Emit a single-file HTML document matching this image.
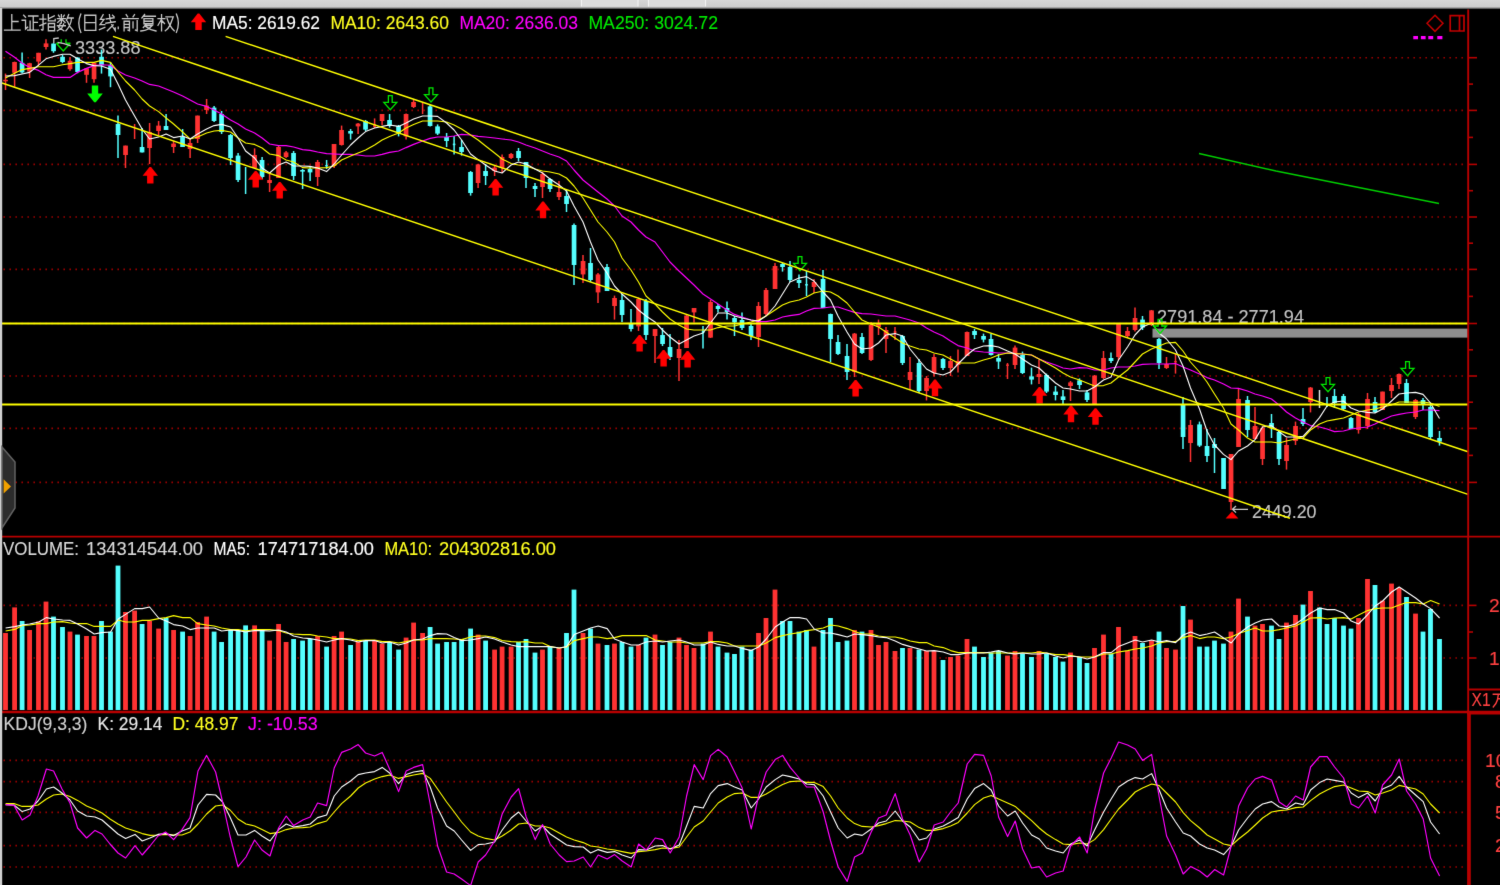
<!DOCTYPE html><html><head><meta charset="utf-8"><title>上证指数(日线.前复权)</title><style>
html,body{margin:0;padding:0;background:#000;overflow:hidden}
body{width:1500px;height:885px;position:relative;font-family:"Liberation Sans",sans-serif}
svg{position:absolute;left:-4px;top:-4px;display:block}
text{font-family:"Liberation Sans",sans-serif;font-size:19.2px;stroke-width:0.14px}
</style></head><body>
<svg width="1508" height="893" viewBox="-4 -4 1508 893">
<defs><filter id="bl" x="-4" y="-4" width="1508" height="893" filterUnits="userSpaceOnUse" color-interpolation-filters="sRGB"><feConvolveMatrix order="3" kernelMatrix="0.0064 0.0672 0.0064 0.0672 0.7056 0.0672 0.0064 0.0672 0.0064" edgeMode="duplicate" preserveAlpha="true"/></filter><linearGradient id="tg" x1="0" y1="0" x2="0" y2="1"><stop offset="0" stop-color="#d6d6d6"/><stop offset="0.7" stop-color="#cdcdcd"/><stop offset="0.85" stop-color="#8a8a8a"/><stop offset="1" stop-color="#000"/></linearGradient>
</defs><g filter="url(#bl)">
<rect x="-4" y="-4" width="1508" height="893" fill="#000"/>
<g opacity="0.92">
<line x1="3.4" y1="57.7" x2="1464" y2="57.7" stroke="#a40000" stroke-width="1.6" stroke-dasharray="1.6 4.4"/>
<line x1="3.4" y1="110.4" x2="1464" y2="110.4" stroke="#a40000" stroke-width="1.6" stroke-dasharray="1.6 4.4"/>
<line x1="3.4" y1="164.4" x2="1464" y2="164.4" stroke="#a40000" stroke-width="1.6" stroke-dasharray="1.6 4.4"/>
<line x1="3.4" y1="217" x2="1464" y2="217" stroke="#a40000" stroke-width="1.6" stroke-dasharray="1.6 4.4"/>
<line x1="3.4" y1="269.4" x2="1464" y2="269.4" stroke="#a40000" stroke-width="1.6" stroke-dasharray="1.6 4.4"/>
<line x1="3.4" y1="323.5" x2="1464" y2="323.5" stroke="#a40000" stroke-width="1.6" stroke-dasharray="1.6 4.4"/>
<line x1="3.4" y1="376" x2="1464" y2="376" stroke="#a40000" stroke-width="1.6" stroke-dasharray="1.6 4.4"/>
<line x1="3.4" y1="428.4" x2="1464" y2="428.4" stroke="#a40000" stroke-width="1.6" stroke-dasharray="1.6 4.4"/>
<line x1="3.4" y1="482.4" x2="1464" y2="482.4" stroke="#a40000" stroke-width="1.6" stroke-dasharray="1.6 4.4"/>
<line x1="3.4" y1="605.4" x2="1464" y2="605.4" stroke="#a40000" stroke-width="1.6" stroke-dasharray="1.6 4.4"/>
<line x1="3.4" y1="658" x2="1464" y2="658" stroke="#a40000" stroke-width="1.6" stroke-dasharray="1.6 4.4"/>
<line x1="3.4" y1="760.4" x2="1464" y2="760.4" stroke="#a40000" stroke-width="1.6" stroke-dasharray="1.6 4.4"/>
<line x1="3.4" y1="781.6" x2="1464" y2="781.6" stroke="#a40000" stroke-width="1.6" stroke-dasharray="1.6 4.4"/>
<line x1="3.4" y1="812.4" x2="1464" y2="812.4" stroke="#a40000" stroke-width="1.6" stroke-dasharray="1.6 4.4"/>
<line x1="3.4" y1="845.6" x2="1464" y2="845.6" stroke="#a40000" stroke-width="1.6" stroke-dasharray="1.6 4.4"/>
<line x1="3.4" y1="867" x2="1464" y2="867" stroke="#a40000" stroke-width="1.6" stroke-dasharray="1.6 4.4"/>
</g>
<text x="75" y="54.2" fill="#c4c4c4" stroke="#c4c4c4" textLength="65.5" lengthAdjust="spacingAndGlyphs">3333.88</text>
<text x="1157" y="323" fill="#c4c4c4" stroke="#c4c4c4" textLength="147" lengthAdjust="spacingAndGlyphs">2791.84 - 2771.94</text>
<text x="1252" y="518.4" fill="#c4c4c4" stroke="#c4c4c4" textLength="64.5" lengthAdjust="spacingAndGlyphs">2449.20</text>
<path d="M1232.5 509.3H1248M1236 506L1232.5 509.3L1236 512.6" fill="none" stroke="#c8c8c8" stroke-width="1.3"/>
<path d="M1232 511.6L1238.4 518.4H1225.6Z" fill="#ff0000"/>
<rect x="1152.5" y="328.6" width="316" height="9" fill="#8e8e8e"/>
<g>
<line x1="5.5" y1="73.6" x2="5.5" y2="90" stroke="#ff3232" stroke-width="1.5"/>
<rect x="3.2" y="79.8" width="4.7" height="1.5" fill="#ff3232"/>
<line x1="14.6" y1="61.6" x2="14.6" y2="86.8" stroke="#ff3232" stroke-width="1.5"/>
<rect x="12.2" y="62" width="4.7" height="10.8" fill="#ff3232"/>
<line x1="22.1" y1="52.4" x2="22.1" y2="73.6" stroke="#54ffff" stroke-width="1.5"/>
<rect x="19.7" y="62.8" width="4.7" height="9.6" fill="#54ffff"/>
<line x1="29.6" y1="62.8" x2="29.6" y2="78" stroke="#ff3232" stroke-width="1.5"/>
<rect x="27.2" y="63.2" width="4.7" height="8.4" fill="#ff3232"/>
<line x1="38.5" y1="52.8" x2="38.5" y2="65.6" stroke="#ff3232" stroke-width="1.5"/>
<rect x="36.2" y="52.8" width="4.7" height="8.8" fill="#ff3232"/>
<line x1="46" y1="39.2" x2="46" y2="49.6" stroke="#ff3232" stroke-width="1.5"/>
<rect x="43.7" y="43.4" width="4.7" height="3.6" fill="#ff3232"/>
<line x1="53.5" y1="43.2" x2="53.5" y2="52.8" stroke="#54ffff" stroke-width="1.5"/>
<rect x="51.2" y="43.6" width="4.7" height="7.6" fill="#54ffff"/>
<line x1="62.5" y1="54.8" x2="62.5" y2="63.2" stroke="#54ffff" stroke-width="1.5"/>
<rect x="60.2" y="56.8" width="4.7" height="5.2" fill="#54ffff"/>
<line x1="70" y1="57.2" x2="70" y2="70.8" stroke="#ff3232" stroke-width="1.5"/>
<rect x="67.7" y="60.8" width="4.7" height="8.4" fill="#ff3232"/>
<line x1="77.5" y1="57.2" x2="77.5" y2="73.2" stroke="#54ffff" stroke-width="1.5"/>
<rect x="75.2" y="57.6" width="4.7" height="14.4" fill="#54ffff"/>
<line x1="86.5" y1="68" x2="86.5" y2="82.8" stroke="#ff3232" stroke-width="1.5"/>
<rect x="84.2" y="68.4" width="4.7" height="6.4" fill="#ff3232"/>
<line x1="94" y1="62.8" x2="94" y2="82.8" stroke="#ff3232" stroke-width="1.5"/>
<rect x="91.7" y="62.8" width="4.7" height="16.4" fill="#ff3232"/>
<line x1="101.5" y1="49.6" x2="101.5" y2="73.6" stroke="#54ffff" stroke-width="1.5"/>
<rect x="99.2" y="56.8" width="4.7" height="8.4" fill="#54ffff"/>
<line x1="110.5" y1="62" x2="110.5" y2="87.2" stroke="#54ffff" stroke-width="1.5"/>
<rect x="108.2" y="65.2" width="4.7" height="11.2" fill="#54ffff"/>
<line x1="118" y1="115.6" x2="118" y2="158" stroke="#54ffff" stroke-width="1.5"/>
<rect x="115.7" y="124" width="4.7" height="11" fill="#54ffff"/>
<line x1="125.5" y1="145.6" x2="125.5" y2="168" stroke="#ff3232" stroke-width="1.5"/>
<rect x="123.2" y="145.6" width="4.7" height="9.4" fill="#ff3232"/>
<line x1="134.6" y1="124" x2="134.6" y2="139" stroke="#ff3232" stroke-width="1.5"/>
<line x1="142.1" y1="128" x2="142.1" y2="152.4" stroke="#54ffff" stroke-width="1.5"/>
<rect x="139.7" y="147" width="4.7" height="5.4" fill="#54ffff"/>
<line x1="149.6" y1="123" x2="149.6" y2="164" stroke="#ff3232" stroke-width="1.5"/>
<rect x="147.2" y="132" width="4.7" height="16" fill="#ff3232"/>
<line x1="158.6" y1="121" x2="158.6" y2="135" stroke="#ff3232" stroke-width="1.5"/>
<rect x="156.2" y="125.6" width="4.7" height="5.4" fill="#ff3232"/>
<line x1="166.1" y1="114" x2="166.1" y2="130" stroke="#54ffff" stroke-width="1.5"/>
<rect x="163.7" y="126" width="4.7" height="4" fill="#54ffff"/>
<line x1="173.6" y1="141" x2="173.6" y2="153" stroke="#ff3232" stroke-width="1.5"/>
<rect x="171.2" y="143.6" width="4.7" height="3.4" fill="#ff3232"/>
<line x1="182.6" y1="129" x2="182.6" y2="147" stroke="#54ffff" stroke-width="1.5"/>
<rect x="180.2" y="137" width="4.7" height="10" fill="#54ffff"/>
<line x1="190.1" y1="138" x2="190.1" y2="158" stroke="#ff3232" stroke-width="1.5"/>
<rect x="187.7" y="143" width="4.7" height="6" fill="#ff3232"/>
<line x1="197.6" y1="115.6" x2="197.6" y2="143" stroke="#ff3232" stroke-width="1.5"/>
<rect x="195.2" y="115.6" width="4.7" height="23.4" fill="#ff3232"/>
<line x1="206.6" y1="99" x2="206.6" y2="114" stroke="#ff3232" stroke-width="1.5"/>
<rect x="204.2" y="105.6" width="4.7" height="4.4" fill="#ff3232"/>
<line x1="214.1" y1="106" x2="214.1" y2="122" stroke="#54ffff" stroke-width="1.5"/>
<rect x="211.7" y="107.6" width="4.7" height="13.4" fill="#54ffff"/>
<line x1="221.6" y1="111" x2="221.6" y2="134" stroke="#54ffff" stroke-width="1.5"/>
<rect x="219.2" y="114" width="4.7" height="18" fill="#54ffff"/>
<line x1="230.6" y1="134" x2="230.6" y2="165" stroke="#54ffff" stroke-width="1.5"/>
<rect x="228.2" y="135" width="4.7" height="23" fill="#54ffff"/>
<line x1="238.1" y1="153" x2="238.1" y2="182" stroke="#54ffff" stroke-width="1.5"/>
<rect x="235.7" y="155.6" width="4.7" height="24.4" fill="#54ffff"/>
<line x1="245.6" y1="167" x2="245.6" y2="194" stroke="#54ffff" stroke-width="1.5"/>
<line x1="254.6" y1="148.4" x2="254.6" y2="168" stroke="#ff3232" stroke-width="1.5"/>
<rect x="252.2" y="155" width="4.7" height="13" fill="#ff3232"/>
<line x1="262.1" y1="157" x2="262.1" y2="179" stroke="#54ffff" stroke-width="1.5"/>
<rect x="259.7" y="160" width="4.7" height="17" fill="#54ffff"/>
<line x1="269.6" y1="172" x2="269.6" y2="192" stroke="#ff3232" stroke-width="1.5"/>
<rect x="267.2" y="180" width="4.7" height="3" fill="#ff3232"/>
<line x1="278.6" y1="145.6" x2="278.6" y2="178" stroke="#ff3232" stroke-width="1.5"/>
<rect x="276.2" y="147" width="4.7" height="31" fill="#ff3232"/>
<line x1="286.1" y1="151" x2="286.1" y2="158" stroke="#ff3232" stroke-width="1.5"/>
<rect x="283.7" y="152.4" width="4.7" height="4.6" fill="#ff3232"/>
<line x1="293.6" y1="151" x2="293.6" y2="180" stroke="#54ffff" stroke-width="1.5"/>
<rect x="291.2" y="153" width="4.7" height="23" fill="#54ffff"/>
<line x1="302.6" y1="169" x2="302.6" y2="189" stroke="#54ffff" stroke-width="1.5"/>
<rect x="300.2" y="170" width="4.7" height="1.6" fill="#54ffff"/>
<line x1="310.1" y1="166" x2="310.1" y2="181" stroke="#54ffff" stroke-width="1.5"/>
<rect x="307.7" y="169" width="4.7" height="3.4" fill="#54ffff"/>
<line x1="317.6" y1="160" x2="317.6" y2="186" stroke="#ff3232" stroke-width="1.5"/>
<rect x="315.2" y="162" width="4.7" height="15" fill="#ff3232"/>
<line x1="326.6" y1="160" x2="326.6" y2="169" stroke="#54ffff" stroke-width="1.5"/>
<rect x="325.2" y="165" width="2.6" height="1.4" fill="#54ffff"/>
<line x1="334.1" y1="144" x2="334.1" y2="168" stroke="#ff3232" stroke-width="1.5"/>
<rect x="331.7" y="144" width="4.7" height="22" fill="#ff3232"/>
<line x1="341.6" y1="125.6" x2="341.6" y2="145.6" stroke="#ff3232" stroke-width="1.5"/>
<rect x="339.2" y="130" width="4.7" height="15" fill="#ff3232"/>
<line x1="350.6" y1="129" x2="350.6" y2="139.6" stroke="#54ffff" stroke-width="1.5"/>
<rect x="348.2" y="131" width="4.7" height="2.6" fill="#54ffff"/>
<line x1="358.1" y1="123" x2="358.1" y2="134" stroke="#ff3232" stroke-width="1.5"/>
<rect x="355.7" y="123.6" width="4.7" height="2.8" fill="#ff3232"/>
<line x1="365.6" y1="120" x2="365.6" y2="131" stroke="#54ffff" stroke-width="1.5"/>
<rect x="363.2" y="121" width="4.7" height="8.6" fill="#54ffff"/>
<line x1="374.6" y1="118.4" x2="374.6" y2="128" stroke="#ff3232" stroke-width="1.5"/>
<rect x="373.2" y="124.4" width="2.6" height="2.6" fill="#ff3232"/>
<line x1="382.1" y1="114" x2="382.1" y2="125" stroke="#ff3232" stroke-width="1.5"/>
<rect x="379.7" y="114" width="4.7" height="7" fill="#ff3232"/>
<line x1="389.6" y1="114" x2="389.6" y2="127.6" stroke="#54ffff" stroke-width="1.5"/>
<rect x="387.2" y="120" width="4.7" height="6" fill="#54ffff"/>
<line x1="398.6" y1="125" x2="398.6" y2="136.4" stroke="#54ffff" stroke-width="1.5"/>
<rect x="396.2" y="126" width="4.7" height="7" fill="#54ffff"/>
<line x1="406.1" y1="113.6" x2="406.1" y2="139.6" stroke="#ff3232" stroke-width="1.5"/>
<rect x="403.7" y="114" width="4.7" height="22.4" fill="#ff3232"/>
<line x1="413.6" y1="100" x2="413.6" y2="108" stroke="#ff3232" stroke-width="1.5"/>
<rect x="411.2" y="102" width="4.7" height="5" fill="#ff3232"/>
<line x1="422.6" y1="102.4" x2="422.6" y2="114" stroke="#ff3232" stroke-width="1.5"/>
<line x1="430.1" y1="105" x2="430.1" y2="126.4" stroke="#54ffff" stroke-width="1.5"/>
<rect x="427.7" y="106.4" width="4.7" height="19.6" fill="#54ffff"/>
<line x1="437.6" y1="124.4" x2="437.6" y2="135" stroke="#54ffff" stroke-width="1.5"/>
<rect x="435.2" y="126.4" width="4.7" height="7.2" fill="#54ffff"/>
<line x1="446.6" y1="133" x2="446.6" y2="147" stroke="#54ffff" stroke-width="1.5"/>
<rect x="444.2" y="137" width="4.7" height="4" fill="#54ffff"/>
<line x1="454.1" y1="136" x2="454.1" y2="154.4" stroke="#54ffff" stroke-width="1.5"/>
<rect x="452.8" y="143.6" width="2.6" height="1.6" fill="#54ffff"/>
<line x1="461.6" y1="140" x2="461.6" y2="155.6" stroke="#54ffff" stroke-width="1.5"/>
<rect x="459.2" y="147" width="4.7" height="5" fill="#54ffff"/>
<line x1="470.6" y1="171" x2="470.6" y2="195.6" stroke="#54ffff" stroke-width="1.5"/>
<rect x="468.2" y="172" width="4.7" height="21" fill="#54ffff"/>
<line x1="478.1" y1="164" x2="478.1" y2="188" stroke="#ff3232" stroke-width="1.5"/>
<rect x="475.7" y="164.4" width="4.7" height="18.6" fill="#ff3232"/>
<line x1="485.6" y1="164" x2="485.6" y2="185" stroke="#54ffff" stroke-width="1.5"/>
<rect x="483.2" y="171" width="4.7" height="5" fill="#54ffff"/>
<line x1="494.6" y1="165" x2="494.6" y2="176" stroke="#ff3232" stroke-width="1.5"/>
<rect x="492.2" y="167.6" width="4.7" height="3.4" fill="#ff3232"/>
<line x1="502.1" y1="154.4" x2="502.1" y2="173" stroke="#ff3232" stroke-width="1.5"/>
<rect x="499.7" y="157" width="4.7" height="11" fill="#ff3232"/>
<line x1="511.1" y1="153" x2="511.1" y2="159" stroke="#ff3232" stroke-width="1.5"/>
<rect x="508.7" y="154" width="4.7" height="4" fill="#ff3232"/>
<line x1="518.5" y1="148" x2="518.5" y2="161" stroke="#54ffff" stroke-width="1.5"/>
<rect x="516.2" y="151" width="4.7" height="7" fill="#54ffff"/>
<line x1="526" y1="162" x2="526" y2="188" stroke="#54ffff" stroke-width="1.5"/>
<rect x="523.7" y="162" width="4.7" height="16" fill="#54ffff"/>
<line x1="535" y1="183" x2="535" y2="197" stroke="#54ffff" stroke-width="1.5"/>
<rect x="532.7" y="186" width="4.7" height="3" fill="#54ffff"/>
<line x1="542.5" y1="172" x2="542.5" y2="198" stroke="#ff3232" stroke-width="1.5"/>
<rect x="540.2" y="174" width="4.7" height="13" fill="#ff3232"/>
<line x1="550" y1="178" x2="550" y2="192" stroke="#54ffff" stroke-width="1.5"/>
<rect x="547.7" y="179" width="4.7" height="10" fill="#54ffff"/>
<line x1="559" y1="181" x2="559" y2="200" stroke="#ff3232" stroke-width="1.5"/>
<rect x="556.7" y="192" width="4.7" height="5" fill="#ff3232"/>
<line x1="566.5" y1="190" x2="566.5" y2="212" stroke="#54ffff" stroke-width="1.5"/>
<rect x="564.2" y="196" width="4.7" height="8" fill="#54ffff"/>
<line x1="574" y1="223.6" x2="574" y2="285" stroke="#54ffff" stroke-width="1.5"/>
<rect x="571.7" y="225" width="4.7" height="40" fill="#54ffff"/>
<line x1="583" y1="255" x2="583" y2="283" stroke="#ff3232" stroke-width="1.5"/>
<rect x="580.7" y="261" width="4.7" height="13.4" fill="#ff3232"/>
<line x1="590.5" y1="248" x2="590.5" y2="282" stroke="#54ffff" stroke-width="1.5"/>
<rect x="588.2" y="263" width="4.7" height="17" fill="#54ffff"/>
<line x1="598" y1="273" x2="598" y2="303" stroke="#ff3232" stroke-width="1.5"/>
<rect x="595.7" y="274.4" width="4.7" height="18" fill="#ff3232"/>
<line x1="607" y1="264" x2="607" y2="291" stroke="#54ffff" stroke-width="1.5"/>
<rect x="604.7" y="267" width="4.7" height="24" fill="#54ffff"/>
<line x1="614.5" y1="295.6" x2="614.5" y2="319.6" stroke="#ff3232" stroke-width="1.5"/>
<rect x="612.2" y="298" width="4.7" height="8" fill="#ff3232"/>
<line x1="622" y1="294" x2="622" y2="322" stroke="#54ffff" stroke-width="1.5"/>
<rect x="619.7" y="300" width="4.7" height="15" fill="#54ffff"/>
<line x1="631" y1="309" x2="631" y2="331.6" stroke="#54ffff" stroke-width="1.5"/>
<rect x="628.7" y="324" width="4.7" height="5" fill="#54ffff"/>
<line x1="638.5" y1="297.6" x2="638.5" y2="331" stroke="#ff3232" stroke-width="1.5"/>
<rect x="636.2" y="299" width="4.7" height="27.4" fill="#ff3232"/>
<line x1="646" y1="299" x2="646" y2="340" stroke="#54ffff" stroke-width="1.5"/>
<rect x="643.7" y="301" width="4.7" height="34" fill="#54ffff"/>
<line x1="655" y1="329" x2="655" y2="363" stroke="#ff3232" stroke-width="1.5"/>
<rect x="652.7" y="329" width="4.7" height="7" fill="#ff3232"/>
<line x1="662.5" y1="328" x2="662.5" y2="346" stroke="#54ffff" stroke-width="1.5"/>
<rect x="660.2" y="335" width="4.7" height="9" fill="#54ffff"/>
<line x1="670" y1="334" x2="670" y2="360" stroke="#54ffff" stroke-width="1.5"/>
<rect x="667.7" y="347" width="4.7" height="10" fill="#54ffff"/>
<line x1="679" y1="340" x2="679" y2="381" stroke="#ff3232" stroke-width="1.5"/>
<rect x="676.7" y="349" width="4.7" height="9" fill="#ff3232"/>
<line x1="686.5" y1="314" x2="686.5" y2="348" stroke="#ff3232" stroke-width="1.5"/>
<rect x="684.2" y="315.6" width="4.7" height="32.4" fill="#ff3232"/>
<line x1="694" y1="308" x2="694" y2="322.4" stroke="#ff3232" stroke-width="1.5"/>
<rect x="691.7" y="308" width="4.7" height="4.4" fill="#ff3232"/>
<line x1="703" y1="326" x2="703" y2="348.4" stroke="#54ffff" stroke-width="1.5"/>
<rect x="701.8" y="331" width="2.6" height="2" fill="#54ffff"/>
<line x1="710.5" y1="300" x2="710.5" y2="338" stroke="#ff3232" stroke-width="1.5"/>
<rect x="708.2" y="302" width="4.7" height="35.6" fill="#ff3232"/>
<line x1="718" y1="304" x2="718" y2="312.4" stroke="#54ffff" stroke-width="1.5"/>
<rect x="715.7" y="306" width="4.7" height="3" fill="#54ffff"/>
<line x1="727" y1="301.6" x2="727" y2="319.6" stroke="#54ffff" stroke-width="1.5"/>
<rect x="724.7" y="308" width="4.7" height="4" fill="#54ffff"/>
<line x1="734.5" y1="316" x2="734.5" y2="336" stroke="#54ffff" stroke-width="1.5"/>
<rect x="732.2" y="318" width="4.7" height="4.4" fill="#54ffff"/>
<line x1="742" y1="312.4" x2="742" y2="330" stroke="#54ffff" stroke-width="1.5"/>
<rect x="739.7" y="320" width="4.7" height="8" fill="#54ffff"/>
<line x1="751" y1="324" x2="751" y2="340" stroke="#54ffff" stroke-width="1.5"/>
<rect x="748.7" y="326" width="4.7" height="10" fill="#54ffff"/>
<line x1="758.5" y1="302" x2="758.5" y2="347" stroke="#ff3232" stroke-width="1.5"/>
<rect x="756.2" y="306" width="4.7" height="31" fill="#ff3232"/>
<line x1="766" y1="288" x2="766" y2="316" stroke="#ff3232" stroke-width="1.5"/>
<rect x="763.7" y="290" width="4.7" height="24" fill="#ff3232"/>
<line x1="775" y1="263" x2="775" y2="289" stroke="#ff3232" stroke-width="1.5"/>
<rect x="772.7" y="266" width="4.7" height="23" fill="#ff3232"/>
<line x1="782.5" y1="263" x2="782.5" y2="271.6" stroke="#54ffff" stroke-width="1.5"/>
<rect x="780.2" y="264" width="4.7" height="3" fill="#54ffff"/>
<line x1="790" y1="261" x2="790" y2="282" stroke="#54ffff" stroke-width="1.5"/>
<rect x="787.7" y="267" width="4.7" height="13" fill="#54ffff"/>
<line x1="799" y1="274.4" x2="799" y2="288" stroke="#54ffff" stroke-width="1.5"/>
<rect x="796.7" y="280" width="4.7" height="3" fill="#54ffff"/>
<line x1="806.5" y1="271" x2="806.5" y2="296" stroke="#54ffff" stroke-width="1.5"/>
<rect x="805.2" y="284" width="2.6" height="1.6" fill="#54ffff"/>
<line x1="814" y1="279" x2="814" y2="293" stroke="#ff3232" stroke-width="1.5"/>
<rect x="811.7" y="282" width="4.7" height="5" fill="#ff3232"/>
<line x1="823" y1="270" x2="823" y2="308" stroke="#54ffff" stroke-width="1.5"/>
<rect x="820.7" y="279" width="4.7" height="29" fill="#54ffff"/>
<line x1="830.5" y1="313.6" x2="830.5" y2="362" stroke="#54ffff" stroke-width="1.5"/>
<rect x="828.2" y="314" width="4.7" height="25" fill="#54ffff"/>
<line x1="838" y1="335" x2="838" y2="355" stroke="#54ffff" stroke-width="1.5"/>
<rect x="835.7" y="342" width="4.7" height="12" fill="#54ffff"/>
<line x1="847" y1="344" x2="847" y2="380" stroke="#54ffff" stroke-width="1.5"/>
<rect x="844.7" y="356" width="4.7" height="16" fill="#54ffff"/>
<line x1="854.5" y1="333" x2="854.5" y2="377" stroke="#ff3232" stroke-width="1.5"/>
<rect x="852.2" y="333.6" width="4.7" height="38.4" fill="#ff3232"/>
<line x1="862" y1="333" x2="862" y2="354" stroke="#54ffff" stroke-width="1.5"/>
<rect x="859.7" y="337" width="4.7" height="16" fill="#54ffff"/>
<line x1="871" y1="322" x2="871" y2="361" stroke="#ff3232" stroke-width="1.5"/>
<rect x="868.7" y="325" width="4.7" height="35" fill="#ff3232"/>
<line x1="878.5" y1="319.6" x2="878.5" y2="335" stroke="#ff3232" stroke-width="1.5"/>
<rect x="876.2" y="323.6" width="4.7" height="3.4" fill="#ff3232"/>
<line x1="886" y1="327" x2="886" y2="353" stroke="#ff3232" stroke-width="1.5"/>
<rect x="883.7" y="330" width="4.7" height="9" fill="#ff3232"/>
<line x1="895" y1="327" x2="895" y2="340" stroke="#ff3232" stroke-width="1.5"/>
<rect x="893.8" y="331" width="2.6" height="2" fill="#ff3232"/>
<line x1="902.5" y1="335" x2="902.5" y2="365" stroke="#54ffff" stroke-width="1.5"/>
<rect x="900.2" y="336" width="4.7" height="27" fill="#54ffff"/>
<line x1="910" y1="357" x2="910" y2="390" stroke="#ff3232" stroke-width="1.5"/>
<rect x="907.7" y="372" width="4.7" height="8" fill="#ff3232"/>
<line x1="919" y1="359" x2="919" y2="393" stroke="#54ffff" stroke-width="1.5"/>
<rect x="916.7" y="363" width="4.7" height="28" fill="#54ffff"/>
<line x1="926.5" y1="376" x2="926.5" y2="400.4" stroke="#ff3232" stroke-width="1.5"/>
<rect x="924.2" y="378" width="4.7" height="13" fill="#ff3232"/>
<line x1="934" y1="354" x2="934" y2="376.4" stroke="#ff3232" stroke-width="1.5"/>
<rect x="931.7" y="357" width="4.7" height="16" fill="#ff3232"/>
<line x1="943" y1="358" x2="943" y2="370" stroke="#54ffff" stroke-width="1.5"/>
<rect x="940.7" y="359" width="4.7" height="9" fill="#54ffff"/>
<line x1="950.5" y1="356" x2="950.5" y2="376" stroke="#ff3232" stroke-width="1.5"/>
<rect x="948.2" y="361" width="4.7" height="7" fill="#ff3232"/>
<line x1="958" y1="349.6" x2="958" y2="372.4" stroke="#ff3232" stroke-width="1.5"/>
<rect x="955.7" y="361" width="4.7" height="4" fill="#ff3232"/>
<line x1="967" y1="331.6" x2="967" y2="356" stroke="#ff3232" stroke-width="1.5"/>
<rect x="964.7" y="332" width="4.7" height="24" fill="#ff3232"/>
<line x1="974.5" y1="329" x2="974.5" y2="339" stroke="#54ffff" stroke-width="1.5"/>
<rect x="972.2" y="331" width="4.7" height="4" fill="#54ffff"/>
<line x1="983.5" y1="333.6" x2="983.5" y2="342.4" stroke="#54ffff" stroke-width="1.5"/>
<rect x="981.2" y="336" width="4.7" height="3.6" fill="#54ffff"/>
<line x1="991" y1="334" x2="991" y2="355.6" stroke="#54ffff" stroke-width="1.5"/>
<rect x="988.7" y="339" width="4.7" height="16" fill="#54ffff"/>
<line x1="998.5" y1="354" x2="998.5" y2="369" stroke="#54ffff" stroke-width="1.5"/>
<rect x="996.2" y="358" width="4.7" height="3.6" fill="#54ffff"/>
<line x1="1007.5" y1="363" x2="1007.5" y2="379" stroke="#ff3232" stroke-width="1.5"/>
<rect x="1006.2" y="364.4" width="2.6" height="1.6" fill="#ff3232"/>
<line x1="1015" y1="345.6" x2="1015" y2="369" stroke="#ff3232" stroke-width="1.5"/>
<rect x="1012.7" y="347.6" width="4.7" height="17.4" fill="#ff3232"/>
<line x1="1022.5" y1="351.6" x2="1022.5" y2="374" stroke="#54ffff" stroke-width="1.5"/>
<rect x="1020.2" y="355" width="4.7" height="18" fill="#54ffff"/>
<line x1="1031.5" y1="367.6" x2="1031.5" y2="384.4" stroke="#54ffff" stroke-width="1.5"/>
<rect x="1029.2" y="376.4" width="4.7" height="3.2" fill="#54ffff"/>
<line x1="1039" y1="360" x2="1039" y2="384" stroke="#ff3232" stroke-width="1.5"/>
<rect x="1036.7" y="374" width="4.7" height="3" fill="#ff3232"/>
<line x1="1046.5" y1="373.6" x2="1046.5" y2="393" stroke="#54ffff" stroke-width="1.5"/>
<rect x="1044.2" y="375" width="4.7" height="16.6" fill="#54ffff"/>
<line x1="1055.5" y1="386" x2="1055.5" y2="400.4" stroke="#54ffff" stroke-width="1.5"/>
<rect x="1053.2" y="391.6" width="4.7" height="3.4" fill="#54ffff"/>
<line x1="1063" y1="390" x2="1063" y2="404" stroke="#54ffff" stroke-width="1.5"/>
<rect x="1060.7" y="396.4" width="4.7" height="3.6" fill="#54ffff"/>
<line x1="1070.5" y1="381" x2="1070.5" y2="401" stroke="#ff3232" stroke-width="1.5"/>
<rect x="1068.2" y="382.4" width="4.7" height="3.6" fill="#ff3232"/>
<line x1="1079.5" y1="378.4" x2="1079.5" y2="389" stroke="#54ffff" stroke-width="1.5"/>
<rect x="1077.2" y="380.4" width="4.7" height="4.6" fill="#54ffff"/>
<line x1="1087" y1="390" x2="1087" y2="402" stroke="#54ffff" stroke-width="1.5"/>
<rect x="1084.7" y="392.4" width="4.7" height="7.6" fill="#54ffff"/>
<line x1="1094.5" y1="375" x2="1094.5" y2="404" stroke="#ff3232" stroke-width="1.5"/>
<rect x="1092.2" y="375.6" width="4.7" height="28.4" fill="#ff3232"/>
<line x1="1103.5" y1="351" x2="1103.5" y2="379" stroke="#ff3232" stroke-width="1.5"/>
<rect x="1101.2" y="358" width="4.7" height="20" fill="#ff3232"/>
<line x1="1111" y1="352.4" x2="1111" y2="363" stroke="#54ffff" stroke-width="1.5"/>
<rect x="1108.7" y="358" width="4.7" height="3" fill="#54ffff"/>
<line x1="1118.5" y1="324" x2="1118.5" y2="360" stroke="#ff3232" stroke-width="1.5"/>
<rect x="1116.2" y="324" width="4.7" height="33" fill="#ff3232"/>
<line x1="1127.5" y1="327" x2="1127.5" y2="338" stroke="#ff3232" stroke-width="1.5"/>
<rect x="1125.2" y="331" width="4.7" height="5" fill="#ff3232"/>
<line x1="1135" y1="307.6" x2="1135" y2="331.6" stroke="#ff3232" stroke-width="1.5"/>
<rect x="1132.7" y="318" width="4.7" height="12" fill="#ff3232"/>
<line x1="1142.5" y1="316" x2="1142.5" y2="330" stroke="#54ffff" stroke-width="1.5"/>
<rect x="1140.2" y="319.6" width="4.7" height="8" fill="#54ffff"/>
<line x1="1151.5" y1="310" x2="1151.5" y2="326" stroke="#ff3232" stroke-width="1.5"/>
<rect x="1149.2" y="310.4" width="4.7" height="14.6" fill="#ff3232"/>
<line x1="1159" y1="338" x2="1159" y2="369" stroke="#54ffff" stroke-width="1.5"/>
<rect x="1156.7" y="339" width="4.7" height="24" fill="#54ffff"/>
<line x1="1166.5" y1="357" x2="1166.5" y2="369" stroke="#ff3232" stroke-width="1.5"/>
<rect x="1164.2" y="364" width="4.7" height="4" fill="#ff3232"/>
<line x1="1175.5" y1="354" x2="1175.5" y2="373.6" stroke="#ff3232" stroke-width="1.5"/>
<rect x="1174.2" y="361" width="2.6" height="1.4" fill="#ff3232"/>
<line x1="1183" y1="397" x2="1183" y2="449" stroke="#54ffff" stroke-width="1.5"/>
<rect x="1180.7" y="404" width="4.7" height="33" fill="#54ffff"/>
<line x1="1190.5" y1="420" x2="1190.5" y2="462" stroke="#ff3232" stroke-width="1.5"/>
<rect x="1188.2" y="425" width="4.7" height="18" fill="#ff3232"/>
<line x1="1199.5" y1="421.6" x2="1199.5" y2="447" stroke="#54ffff" stroke-width="1.5"/>
<rect x="1197.2" y="424.4" width="4.7" height="21.2" fill="#54ffff"/>
<line x1="1207" y1="429" x2="1207" y2="462" stroke="#54ffff" stroke-width="1.5"/>
<rect x="1204.7" y="446" width="4.7" height="10" fill="#54ffff"/>
<line x1="1214.5" y1="438" x2="1214.5" y2="473" stroke="#54ffff" stroke-width="1.5"/>
<rect x="1212.2" y="444" width="4.7" height="4" fill="#54ffff"/>
<line x1="1223.5" y1="458" x2="1223.5" y2="489" stroke="#54ffff" stroke-width="1.5"/>
<rect x="1221.2" y="458" width="4.7" height="31" fill="#54ffff"/>
<line x1="1231" y1="454" x2="1231" y2="510" stroke="#ff3232" stroke-width="1.5"/>
<rect x="1228.7" y="454" width="4.7" height="48" fill="#ff3232"/>
<line x1="1238.5" y1="389" x2="1238.5" y2="447" stroke="#ff3232" stroke-width="1.5"/>
<rect x="1236.2" y="399" width="4.7" height="48" fill="#ff3232"/>
<line x1="1247.5" y1="396" x2="1247.5" y2="437" stroke="#54ffff" stroke-width="1.5"/>
<rect x="1245.2" y="400" width="4.7" height="30" fill="#54ffff"/>
<line x1="1255" y1="407" x2="1255" y2="439" stroke="#ff3232" stroke-width="1.5"/>
<rect x="1252.7" y="426" width="4.7" height="13" fill="#ff3232"/>
<line x1="1262.5" y1="426" x2="1262.5" y2="465" stroke="#ff3232" stroke-width="1.5"/>
<rect x="1260.2" y="428" width="4.7" height="31" fill="#ff3232"/>
<line x1="1271.5" y1="414" x2="1271.5" y2="438" stroke="#54ffff" stroke-width="1.5"/>
<rect x="1269.2" y="423" width="4.7" height="5" fill="#54ffff"/>
<line x1="1279" y1="430" x2="1279" y2="465" stroke="#54ffff" stroke-width="1.5"/>
<rect x="1276.7" y="432" width="4.7" height="27" fill="#54ffff"/>
<line x1="1286.5" y1="438" x2="1286.5" y2="469.6" stroke="#ff3232" stroke-width="1.5"/>
<rect x="1284.2" y="445" width="4.7" height="16" fill="#ff3232"/>
<line x1="1295.5" y1="421.6" x2="1295.5" y2="445" stroke="#ff3232" stroke-width="1.5"/>
<rect x="1293.2" y="426" width="4.7" height="15" fill="#ff3232"/>
<line x1="1303" y1="408" x2="1303" y2="426" stroke="#54ffff" stroke-width="1.5"/>
<rect x="1300.7" y="419" width="4.7" height="5" fill="#54ffff"/>
<line x1="1310.5" y1="387" x2="1310.5" y2="412.4" stroke="#ff3232" stroke-width="1.5"/>
<rect x="1308.2" y="387.6" width="4.7" height="14.4" fill="#ff3232"/>
<line x1="1319.5" y1="390" x2="1319.5" y2="408" stroke="#e0e0e0" stroke-width="1.5"/>
<line x1="1327" y1="397" x2="1327" y2="407" stroke="#54ffff" stroke-width="1.5"/>
<line x1="1334.5" y1="389" x2="1334.5" y2="408" stroke="#54ffff" stroke-width="1.5"/>
<rect x="1332.2" y="396" width="4.7" height="7" fill="#54ffff"/>
<line x1="1343.5" y1="394" x2="1343.5" y2="410" stroke="#54ffff" stroke-width="1.5"/>
<rect x="1341.2" y="396" width="4.7" height="13" fill="#54ffff"/>
<line x1="1351" y1="417" x2="1351" y2="429" stroke="#54ffff" stroke-width="1.5"/>
<rect x="1348.7" y="418" width="4.7" height="11" fill="#54ffff"/>
<line x1="1358.5" y1="413" x2="1358.5" y2="433.6" stroke="#ff3232" stroke-width="1.5"/>
<rect x="1356.2" y="414" width="4.7" height="16" fill="#ff3232"/>
<line x1="1367.5" y1="393" x2="1367.5" y2="429" stroke="#ff3232" stroke-width="1.5"/>
<rect x="1365.2" y="399" width="4.7" height="27" fill="#ff3232"/>
<line x1="1375" y1="397" x2="1375" y2="413" stroke="#54ffff" stroke-width="1.5"/>
<rect x="1372.7" y="402" width="4.7" height="10" fill="#54ffff"/>
<line x1="1382.5" y1="391.6" x2="1382.5" y2="410" stroke="#ff3232" stroke-width="1.5"/>
<rect x="1380.2" y="391.6" width="4.7" height="18.4" fill="#ff3232"/>
<line x1="1391.5" y1="378" x2="1391.5" y2="398" stroke="#ff3232" stroke-width="1.5"/>
<rect x="1389.2" y="385" width="4.7" height="6" fill="#ff3232"/>
<line x1="1399" y1="373.6" x2="1399" y2="389" stroke="#ff3232" stroke-width="1.5"/>
<rect x="1396.7" y="374" width="4.7" height="10" fill="#ff3232"/>
<line x1="1406.5" y1="379" x2="1406.5" y2="403" stroke="#54ffff" stroke-width="1.5"/>
<rect x="1404.2" y="383" width="4.7" height="20" fill="#54ffff"/>
<line x1="1415.5" y1="399" x2="1415.5" y2="419" stroke="#ff3232" stroke-width="1.5"/>
<rect x="1413.2" y="400" width="4.7" height="17" fill="#ff3232"/>
<line x1="1423" y1="398" x2="1423" y2="410" stroke="#54ffff" stroke-width="1.5"/>
<rect x="1420.7" y="400" width="4.7" height="4" fill="#54ffff"/>
<line x1="1430.5" y1="403" x2="1430.5" y2="439" stroke="#54ffff" stroke-width="1.5"/>
<rect x="1428.2" y="407" width="4.7" height="30" fill="#54ffff"/>
<line x1="1439.5" y1="431" x2="1439.5" y2="445.6" stroke="#54ffff" stroke-width="1.5"/>
<rect x="1437.2" y="438" width="4.7" height="3.6" fill="#54ffff"/>
</g>
<polyline points="5.5,51.2 14.6,57.2 22.1,63.2 29.6,67.2 38.5,70.4 46,74.8 53.5,77.4 62.5,77.4 70,77.4 77.5,72.4 86.5,68.4 94,65.6 101.5,64.8 110.5,65.2 118,71 125.5,75 134.6,78 142.1,81 149.6,84.4 158.6,86 166.1,89 173.6,92 182.6,96 190.1,100 197.6,104 206.6,106.4 214.1,110 221.6,114 230.6,120 238.1,124 245.6,129 254.6,133 262.1,138 269.6,144 278.6,145.6 286.1,145.6 293.6,147 302.6,149.6 310.1,150.4 317.6,152 326.6,153.6 334.1,154 341.6,154.4 350.6,154.4 358.1,155 365.6,156 374.6,156 382.1,154.4 389.6,152.4 398.6,151 406.1,147.6 413.6,144.4 422.6,141 430.1,138.4 437.6,137 446.6,137 454.1,136 461.6,134.4 470.6,135 478.1,136.4 485.6,137 494.6,138 502.1,139 511.1,140 518.5,142 526,145 535,148 542.5,151 550,154 559,157 566.5,161 574,170 583,180 590.5,186 598,192 607,199 614.5,206 622,216 631,222 638.5,230 646,237 655,242 662.5,252 670,262 679,271 686.5,278 694,285 703,294 710.5,299 718,304 727,310 734.5,314.4 742,317 751,320 758.5,321.6 766,321.6 775,320 782.5,317 790,315.6 799,314.4 806.5,311 814,308.4 823,308 830.5,307 838,307 847,310 854.5,312.4 862,313.6 871,314 878.5,315 886,316 895,316 902.5,318 910,320 919,323 926.5,328 934,332 943,336 950.5,341 958,345.6 967,348 974.5,351 983.5,352 991,352.4 998.5,353 1007.5,353 1015,353.6 1022.5,354 1031.5,355 1039,359 1046.5,362 1055.5,365 1063,368 1070.5,369 1079.5,367.6 1087,368 1094.5,370 1103.5,370 1111,368 1118.5,367 1127.5,367 1135,366 1142.5,364.4 1151.5,364 1159,364 1166.5,364 1175.5,363.6 1183,367 1190.5,370 1199.5,374 1207,377.6 1214.5,380 1223.5,384 1231,388 1238.5,388.4 1247.5,391 1255,394 1262.5,396 1271.5,399 1279,405 1286.5,412 1295.5,418 1303,422 1310.5,425.6 1319.5,427 1327,429 1334.5,431.6 1343.5,431 1351,429 1358.5,428 1367.5,427 1375,424 1382.5,420 1391.5,416 1399,414.4 1406.5,413 1415.5,412 1423,410 1430.5,410 1439.5,410.6" fill="none" stroke="#ff00ff" stroke-width="1.15" stroke-linejoin="round" />
<polyline points="5.5,78 14.6,73.2 22.1,69.6 29.6,68.4 38.5,66.8 46,66.8 53.5,66.8 62.5,64.8 70,63.6 77.5,62.4 86.5,62.4 94,62.4 101.5,60.4 110.5,62.4 118,72 125.5,81 134.6,90 142.1,99 149.6,106 158.6,111.6 166.1,118 173.6,124 182.6,132 190.1,139 197.6,137 206.6,133 214.1,131 221.6,130.4 230.6,132 238.1,138 245.6,143 254.6,144.4 262.1,148 269.6,154 278.6,155.6 286.1,160 293.6,162 302.6,167.6 310.1,168 317.6,168 326.6,167.6 334.1,166 341.6,160 350.6,156 358.1,153 365.6,150 374.6,145 382.1,140 389.6,136.4 398.6,133 406.1,128 413.6,124.4 422.6,121 430.1,121 437.6,121 446.6,122 454.1,125 461.6,129 470.6,135 478.1,140 485.6,146 494.6,153 502.1,159 511.1,163.6 518.5,165 526,166 535,169 542.5,171 550,172 559,174 566.5,178 574,186 583,198 590.5,210 598,222 607,232 614.5,242 622,258 631,270 638.5,282 646,296 655,304 662.5,312 670,319 679,325 686.5,329 694,330 703,330 710.5,330 718,327.6 727,326 734.5,326 742,324 751,322 758.5,320 766,316 775,310 782.5,305 790,302 799,300 806.5,297 814,293 823,291 830.5,292 838,296 847,303 854.5,312 862,320 871,324 878.5,327 886,332 895,338 902.5,343 910,346 919,349 926.5,350 934,353 943,355 950.5,359 958,363 967,363 974.5,363 983.5,360 991,358 998.5,355 1007.5,353 1015,353.6 1022.5,354 1031.5,355 1039,359 1046.5,363 1055.5,368 1063,373 1070.5,377 1079.5,380 1087,383 1094.5,386 1103.5,385.6 1111,383 1118.5,377 1127.5,370 1135,362 1142.5,354 1151.5,349 1159,346 1166.5,343 1175.5,342.4 1183,351 1190.5,362 1199.5,372 1207,382 1214.5,394 1223.5,408 1231,424 1238.5,430 1247.5,438 1255,442 1262.5,442 1271.5,442 1279,443 1286.5,441 1295.5,439 1303,438 1310.5,430 1319.5,424 1327,421 1334.5,419.6 1343.5,418 1351,415 1358.5,412 1367.5,410 1375,409 1382.5,407 1391.5,405 1399,402 1406.5,402 1415.5,402.4 1423,402 1430.5,403 1439.5,406.4" fill="none" stroke="#ffff00" stroke-width="1.1" stroke-linejoin="round" />
<polyline points="5.5,76 14.6,75.6 22.1,74 29.6,72.4 38.5,65.2 46,58.8 53.5,56.4 62.5,54.2 70,54.2 77.5,58.8 86.5,63.6 94,65.6 101.5,66 110.5,69.2 118,84 125.5,100 134.6,116 142.1,129 149.6,139 158.6,137 166.1,134 173.6,137.6 182.6,136 190.1,139 197.6,134 206.6,129 214.1,125.6 221.6,124.4 230.6,127 238.1,138 245.6,151 254.6,158 262.1,168 269.6,173 278.6,165 286.1,162 293.6,166 302.6,166 310.1,166.4 317.6,168 326.6,171.6 334.1,164 341.6,155 350.6,145 358.1,138 365.6,131.6 374.6,128 382.1,126.4 389.6,125 398.6,126.4 406.1,123 413.6,119 422.6,116 430.1,116 437.6,116.4 446.6,123 454.1,130 461.6,140 470.6,154 478.1,159.6 485.6,165 494.6,171 502.1,173 511.1,165 518.5,162 526,164 535,169 542.5,173 550,179 559,185 566.5,191 574,206 583,222 590.5,242 598,260 607,273 614.5,286 622,294 631,302 638.5,310 646,316 655,322 662.5,330 670,337 679,344 686.5,340 694,336 703,333 710.5,323 718,313 727,313 734.5,316 742,318 751,320 758.5,321 766,316 775,306 782.5,294 790,282 799,278 806.5,276.6 814,281 823,292 830.5,300 838,316 847,332 854.5,344 862,349 871,348 878.5,343 886,335 895,333.6 902.5,336 910,349 919,360 926.5,369 934,373 943,375 950.5,372 958,364 967,355 974.5,349 983.5,346 991,345.6 998.5,347 1007.5,351 1015,354 1022.5,359 1031.5,365 1039,368 1046.5,375 1055.5,383 1063,388 1070.5,389 1079.5,391 1087,391 1094.5,387 1103.5,380 1111,377 1118.5,360 1127.5,347 1135,335 1142.5,327 1151.5,323 1159,333 1166.5,339 1175.5,350 1183,366 1190.5,388 1199.5,409 1207,431 1214.5,445 1223.5,454.4 1231,459.6 1238.5,451 1247.5,446 1255,439.6 1262.5,427 1271.5,425.6 1279,431.6 1286.5,437 1295.5,437 1303,436.4 1310.5,428.4 1319.5,417.6 1327,406 1334.5,402 1343.5,401 1351,408 1358.5,411 1367.5,412.4 1375,413 1382.5,409 1391.5,401 1399,394 1406.5,393 1415.5,392.4 1423,394.4 1430.5,403 1439.5,418.6" fill="none" stroke="#ffffff" stroke-width="1.1" stroke-linejoin="round" />
<polyline points="1199,153.6 1276,171 1439,203.6" fill="none" stroke="#00cc00" stroke-width="1.5" stroke-linejoin="round" />
<g fill="#ff0000">
<path transform="translate(150.3,167)" d="M-0.8 0H0.8L7.7 8.8H3.2V16.6H-3.2V8.8H-7.7Z"/>
<path transform="translate(255.7,171)" d="M-0.8 0H0.8L7.7 8.8H3.2V16.6H-3.2V8.8H-7.7Z"/>
<path transform="translate(279.7,182)" d="M-0.8 0H0.8L7.7 8.8H3.2V16.6H-3.2V8.8H-7.7Z"/>
<path transform="translate(495.6,179)" d="M-0.8 0H0.8L7.7 8.8H3.2V16.6H-3.2V8.8H-7.7Z"/>
<path transform="translate(543,201.6)" d="M-0.8 0H0.8L7.7 8.8H3.2V16.6H-3.2V8.8H-7.7Z"/>
<path transform="translate(639.6,335)" d="M-0.8 0H0.8L7.7 8.8H3.2V16.6H-3.2V8.8H-7.7Z"/>
<path transform="translate(663.6,350)" d="M-0.8 0H0.8L7.7 8.8H3.2V16.6H-3.2V8.8H-7.7Z"/>
<path transform="translate(687.6,351)" d="M-0.8 0H0.8L7.7 8.8H3.2V16.6H-3.2V8.8H-7.7Z"/>
<path transform="translate(855.6,380)" d="M-0.8 0H0.8L7.7 8.8H3.2V16.6H-3.2V8.8H-7.7Z"/>
<path transform="translate(935,379.6)" d="M-0.8 0H0.8L7.7 8.8H3.2V16.6H-3.2V8.8H-7.7Z"/>
<path transform="translate(1039.6,387)" d="M-0.8 0H0.8L7.7 8.8H3.2V16.6H-3.2V8.8H-7.7Z"/>
<path transform="translate(1071,405.6)" d="M-0.8 0H0.8L7.7 8.8H3.2V16.6H-3.2V8.8H-7.7Z"/>
<path transform="translate(1095.5,408.2)" d="M-0.8 0H0.8L7.7 8.8H3.2V16.6H-3.2V8.8H-7.7Z"/>
<path transform="translate(198.5,13.4)" d="M-0.8 0H0.8L7.7 8.8H3.2V16.6H-3.2V8.8H-7.7Z"/>
</g>
<path transform="translate(95,85.6)" d="M-0.8 16.7H0.8L7.8 7.8H3.2V0H-3.2V7.8H-7.8Z" fill="#00ff00"/>
<path transform="translate(390.3,95)" d="M-1.9 0.7H1.9V7.4H6.5L0 14.8L-6.5 7.4H-1.9Z" fill="none" stroke="#00e600" stroke-width="1.3"/>
<path transform="translate(431,87.2)" d="M-1.9 0.7H1.9V7.4H6.5L0 14.8L-6.5 7.4H-1.9Z" fill="none" stroke="#00e600" stroke-width="1.3"/>
<path transform="translate(800,256)" d="M-1.9 0.7H1.9V7.4H6.5L0 14.8L-6.5 7.4H-1.9Z" fill="none" stroke="#00e600" stroke-width="1.3"/>
<path transform="translate(1160,318.6)" d="M-1.9 0.7H1.9V7.4H6.5L0 14.8L-6.5 7.4H-1.9Z" fill="none" stroke="#00e600" stroke-width="1.3"/>
<path transform="translate(1328,377)" d="M-1.9 0.7H1.9V7.4H6.5L0 14.8L-6.5 7.4H-1.9Z" fill="none" stroke="#00e600" stroke-width="1.3"/>
<path transform="translate(1407.5,361)" d="M-1.9 0.7H1.9V7.4H6.5L0 14.8L-6.5 7.4H-1.9Z" fill="none" stroke="#00e600" stroke-width="1.3"/>
<path d="M61.2 39.2V43M66 39.2V43M56.4 43.2L63.2 51L70.4 43.2M66 43.2H70.4M56.4 43.2H59" fill="none" stroke="#00dc00" stroke-width="1.4"/>
<path d="M53.8 43V38.6L58.8 38M57.6 42.4L64 43.6L70.8 45.8" fill="none" stroke="#c8c8c8" stroke-width="1.3"/>
<g stroke="#ffff00" stroke-width="1.45" fill="none">
<line x1="2" y1="323.5" x2="1468" y2="323.5" stroke-width="1.8"/>
<line x1="2" y1="404.5" x2="1468" y2="404.5" stroke-width="1.8"/>
<line x1="2" y1="83" x2="1290" y2="518.3"/>
<line x1="113" y1="36.4" x2="1468" y2="494.4"/>
<line x1="225.6" y1="36.4" x2="1468" y2="451.7"/>
</g>
<path d="M1435 15.2L1443 23.3L1435 31.4L1427 23.3Z" fill="none" stroke="#c00000" stroke-width="1.5"/>
<path d="M1450.2 15.7H1464V31H1450.2ZM1459.5 15.7V31" fill="none" stroke="#c00000" stroke-width="1.7"/>
<path d="M1413.3 37.7h4.7M1420.9 37.7h4.7M1428.3 37.7h4.9M1437.3 37.7h5.1" stroke="#ff00ff" stroke-width="3.2" fill="none"/>
<g>
<rect x="3.1" y="633" width="4.8" height="77" fill="#ff3232"/>
<rect x="12.2" y="607.4" width="4.8" height="102.6" fill="#ff3232"/>
<rect x="19.7" y="621" width="4.8" height="89" fill="#54ffff"/>
<rect x="27.2" y="630" width="4.8" height="80" fill="#ff3232"/>
<rect x="36.1" y="621.4" width="4.8" height="88.6" fill="#ff3232"/>
<rect x="43.6" y="601.6" width="4.8" height="108.4" fill="#ff3232"/>
<rect x="51.1" y="616.6" width="4.8" height="93.4" fill="#54ffff"/>
<rect x="60.1" y="627" width="4.8" height="83" fill="#54ffff"/>
<rect x="67.6" y="631.6" width="4.8" height="78.4" fill="#ff3232"/>
<rect x="75.1" y="634.6" width="4.8" height="75.4" fill="#54ffff"/>
<rect x="84.1" y="636" width="4.8" height="74" fill="#ff3232"/>
<rect x="91.6" y="636" width="4.8" height="74" fill="#ff3232"/>
<rect x="99.1" y="621" width="4.8" height="89" fill="#54ffff"/>
<rect x="108.1" y="631.6" width="4.8" height="78.4" fill="#54ffff"/>
<rect x="115.6" y="565.6" width="4.8" height="144.4" fill="#54ffff"/>
<rect x="123.1" y="612" width="4.8" height="98" fill="#ff3232"/>
<rect x="132.2" y="610.6" width="4.8" height="99.4" fill="#ff3232"/>
<rect x="139.7" y="624" width="4.8" height="86" fill="#54ffff"/>
<rect x="147.2" y="621" width="4.8" height="89" fill="#ff3232"/>
<rect x="156.2" y="628.6" width="4.8" height="81.4" fill="#ff3232"/>
<rect x="163.7" y="618" width="4.8" height="92" fill="#54ffff"/>
<rect x="171.2" y="630" width="4.8" height="80" fill="#ff3232"/>
<rect x="180.2" y="631.6" width="4.8" height="78.4" fill="#54ffff"/>
<rect x="187.7" y="636" width="4.8" height="74" fill="#ff3232"/>
<rect x="195.2" y="622" width="4.8" height="88" fill="#ff3232"/>
<rect x="204.2" y="616.6" width="4.8" height="93.4" fill="#ff3232"/>
<rect x="211.7" y="631.6" width="4.8" height="78.4" fill="#54ffff"/>
<rect x="219.2" y="642" width="4.8" height="68" fill="#54ffff"/>
<rect x="228.2" y="630" width="4.8" height="80" fill="#54ffff"/>
<rect x="235.7" y="630" width="4.8" height="80" fill="#54ffff"/>
<rect x="243.2" y="625.4" width="4.8" height="84.6" fill="#54ffff"/>
<rect x="252.2" y="625.4" width="4.8" height="84.6" fill="#ff3232"/>
<rect x="259.7" y="630" width="4.8" height="80" fill="#54ffff"/>
<rect x="267.2" y="640.6" width="4.8" height="69.4" fill="#ff3232"/>
<rect x="276.2" y="624" width="4.8" height="86" fill="#ff3232"/>
<rect x="283.7" y="642" width="4.8" height="68" fill="#ff3232"/>
<rect x="291.2" y="639" width="4.8" height="71" fill="#54ffff"/>
<rect x="300.2" y="640.6" width="4.8" height="69.4" fill="#54ffff"/>
<rect x="307.7" y="639" width="4.8" height="71" fill="#54ffff"/>
<rect x="315.2" y="636" width="4.8" height="74" fill="#ff3232"/>
<rect x="324.2" y="646.6" width="4.8" height="63.4" fill="#54ffff"/>
<rect x="331.7" y="636" width="4.8" height="74" fill="#ff3232"/>
<rect x="339.2" y="631.6" width="4.8" height="78.4" fill="#ff3232"/>
<rect x="348.2" y="645" width="4.8" height="65" fill="#54ffff"/>
<rect x="355.7" y="642" width="4.8" height="68" fill="#ff3232"/>
<rect x="363.2" y="640.6" width="4.8" height="69.4" fill="#54ffff"/>
<rect x="372.2" y="640.6" width="4.8" height="69.4" fill="#ff3232"/>
<rect x="379.7" y="643.6" width="4.8" height="66.4" fill="#ff3232"/>
<rect x="387.2" y="642" width="4.8" height="68" fill="#54ffff"/>
<rect x="396.2" y="649.6" width="4.8" height="60.4" fill="#54ffff"/>
<rect x="403.7" y="637.6" width="4.8" height="72.4" fill="#ff3232"/>
<rect x="411.2" y="622.6" width="4.8" height="87.4" fill="#ff3232"/>
<rect x="420.2" y="633" width="4.8" height="77" fill="#ff3232"/>
<rect x="427.7" y="627" width="4.8" height="83" fill="#54ffff"/>
<rect x="435.2" y="643.6" width="4.8" height="66.4" fill="#54ffff"/>
<rect x="444.2" y="642" width="4.8" height="68" fill="#54ffff"/>
<rect x="451.7" y="642" width="4.8" height="68" fill="#54ffff"/>
<rect x="459.2" y="639" width="4.8" height="71" fill="#54ffff"/>
<rect x="468.2" y="628.6" width="4.8" height="81.4" fill="#54ffff"/>
<rect x="475.7" y="634.6" width="4.8" height="75.4" fill="#ff3232"/>
<rect x="483.2" y="640.6" width="4.8" height="69.4" fill="#54ffff"/>
<rect x="492.2" y="649.6" width="4.8" height="60.4" fill="#ff3232"/>
<rect x="499.7" y="646.6" width="4.8" height="63.4" fill="#ff3232"/>
<rect x="508.7" y="646.6" width="4.8" height="63.4" fill="#ff3232"/>
<rect x="516.1" y="642" width="4.8" height="68" fill="#54ffff"/>
<rect x="523.6" y="639" width="4.8" height="71" fill="#54ffff"/>
<rect x="532.6" y="652.6" width="4.8" height="57.4" fill="#54ffff"/>
<rect x="540.1" y="649.6" width="4.8" height="60.4" fill="#ff3232"/>
<rect x="547.6" y="646.6" width="4.8" height="63.4" fill="#54ffff"/>
<rect x="556.6" y="648" width="4.8" height="62" fill="#ff3232"/>
<rect x="564.1" y="633" width="4.8" height="77" fill="#54ffff"/>
<rect x="571.6" y="589.6" width="4.8" height="120.4" fill="#54ffff"/>
<rect x="580.6" y="633" width="4.8" height="77" fill="#ff3232"/>
<rect x="588.1" y="628.6" width="4.8" height="81.4" fill="#54ffff"/>
<rect x="595.6" y="643.6" width="4.8" height="66.4" fill="#ff3232"/>
<rect x="604.6" y="645" width="4.8" height="65" fill="#54ffff"/>
<rect x="612.1" y="643.6" width="4.8" height="66.4" fill="#ff3232"/>
<rect x="619.6" y="642" width="4.8" height="68" fill="#54ffff"/>
<rect x="628.6" y="646.6" width="4.8" height="63.4" fill="#54ffff"/>
<rect x="636.1" y="645" width="4.8" height="65" fill="#ff3232"/>
<rect x="643.6" y="637.6" width="4.8" height="72.4" fill="#54ffff"/>
<rect x="652.6" y="634.6" width="4.8" height="75.4" fill="#ff3232"/>
<rect x="660.1" y="645" width="4.8" height="65" fill="#54ffff"/>
<rect x="667.6" y="642" width="4.8" height="68" fill="#54ffff"/>
<rect x="676.6" y="637.6" width="4.8" height="72.4" fill="#ff3232"/>
<rect x="684.1" y="645" width="4.8" height="65" fill="#ff3232"/>
<rect x="691.6" y="648" width="4.8" height="62" fill="#ff3232"/>
<rect x="700.6" y="643.6" width="4.8" height="66.4" fill="#54ffff"/>
<rect x="708.1" y="631.6" width="4.8" height="78.4" fill="#ff3232"/>
<rect x="715.6" y="646.6" width="4.8" height="63.4" fill="#54ffff"/>
<rect x="724.6" y="652.6" width="4.8" height="57.4" fill="#54ffff"/>
<rect x="732.1" y="654" width="4.8" height="56" fill="#54ffff"/>
<rect x="739.6" y="646.6" width="4.8" height="63.4" fill="#54ffff"/>
<rect x="748.6" y="649.6" width="4.8" height="60.4" fill="#54ffff"/>
<rect x="756.1" y="633" width="4.8" height="77" fill="#ff3232"/>
<rect x="763.6" y="618" width="4.8" height="92" fill="#ff3232"/>
<rect x="772.6" y="589.6" width="4.8" height="120.4" fill="#ff3232"/>
<rect x="780.1" y="621" width="4.8" height="89" fill="#54ffff"/>
<rect x="787.6" y="621" width="4.8" height="89" fill="#54ffff"/>
<rect x="796.6" y="631.6" width="4.8" height="78.4" fill="#54ffff"/>
<rect x="804.1" y="630" width="4.8" height="80" fill="#54ffff"/>
<rect x="811.6" y="646.6" width="4.8" height="63.4" fill="#ff3232"/>
<rect x="820.6" y="630" width="4.8" height="80" fill="#54ffff"/>
<rect x="828.1" y="618" width="4.8" height="92" fill="#54ffff"/>
<rect x="835.6" y="642" width="4.8" height="68" fill="#54ffff"/>
<rect x="844.6" y="640.6" width="4.8" height="69.4" fill="#54ffff"/>
<rect x="852.1" y="630" width="4.8" height="80" fill="#ff3232"/>
<rect x="859.6" y="631.6" width="4.8" height="78.4" fill="#54ffff"/>
<rect x="868.6" y="630" width="4.8" height="80" fill="#ff3232"/>
<rect x="876.1" y="645" width="4.8" height="65" fill="#ff3232"/>
<rect x="883.6" y="642" width="4.8" height="68" fill="#ff3232"/>
<rect x="892.6" y="651" width="4.8" height="59" fill="#ff3232"/>
<rect x="900.1" y="648" width="4.8" height="62" fill="#54ffff"/>
<rect x="907.6" y="648" width="4.8" height="62" fill="#ff3232"/>
<rect x="916.6" y="649.6" width="4.8" height="60.4" fill="#54ffff"/>
<rect x="924.1" y="651" width="4.8" height="59" fill="#ff3232"/>
<rect x="931.6" y="651" width="4.8" height="59" fill="#ff3232"/>
<rect x="940.6" y="660" width="4.8" height="50" fill="#54ffff"/>
<rect x="948.1" y="657" width="4.8" height="53" fill="#ff3232"/>
<rect x="955.6" y="655.6" width="4.8" height="54.4" fill="#ff3232"/>
<rect x="964.6" y="639" width="4.8" height="71" fill="#ff3232"/>
<rect x="972.1" y="646.6" width="4.8" height="63.4" fill="#54ffff"/>
<rect x="981.1" y="657" width="4.8" height="53" fill="#54ffff"/>
<rect x="988.6" y="652.6" width="4.8" height="57.4" fill="#54ffff"/>
<rect x="996.1" y="651" width="4.8" height="59" fill="#54ffff"/>
<rect x="1005.1" y="655.6" width="4.8" height="54.4" fill="#ff3232"/>
<rect x="1012.6" y="651" width="4.8" height="59" fill="#ff3232"/>
<rect x="1020.1" y="654" width="4.8" height="56" fill="#54ffff"/>
<rect x="1029.1" y="657" width="4.8" height="53" fill="#54ffff"/>
<rect x="1036.6" y="651" width="4.8" height="59" fill="#ff3232"/>
<rect x="1044.1" y="654" width="4.8" height="56" fill="#54ffff"/>
<rect x="1053.1" y="657" width="4.8" height="53" fill="#54ffff"/>
<rect x="1060.6" y="661.6" width="4.8" height="48.4" fill="#54ffff"/>
<rect x="1068.1" y="652.6" width="4.8" height="57.4" fill="#ff3232"/>
<rect x="1077.1" y="657" width="4.8" height="53" fill="#54ffff"/>
<rect x="1084.6" y="663" width="4.8" height="47" fill="#54ffff"/>
<rect x="1092.1" y="648" width="4.8" height="62" fill="#ff3232"/>
<rect x="1101.1" y="634.6" width="4.8" height="75.4" fill="#ff3232"/>
<rect x="1108.6" y="654" width="4.8" height="56" fill="#54ffff"/>
<rect x="1116.1" y="627" width="4.8" height="83" fill="#ff3232"/>
<rect x="1125.1" y="651" width="4.8" height="59" fill="#ff3232"/>
<rect x="1132.6" y="636" width="4.8" height="74" fill="#ff3232"/>
<rect x="1140.1" y="643" width="4.8" height="67" fill="#54ffff"/>
<rect x="1149.1" y="640.6" width="4.8" height="69.4" fill="#ff3232"/>
<rect x="1156.6" y="631.6" width="4.8" height="78.4" fill="#54ffff"/>
<rect x="1164.1" y="648" width="4.8" height="62" fill="#ff3232"/>
<rect x="1173.1" y="649.6" width="4.8" height="60.4" fill="#ff3232"/>
<rect x="1180.6" y="606" width="4.8" height="104" fill="#54ffff"/>
<rect x="1188.1" y="619.6" width="4.8" height="90.4" fill="#ff3232"/>
<rect x="1197.1" y="646.6" width="4.8" height="63.4" fill="#54ffff"/>
<rect x="1204.6" y="646.6" width="4.8" height="63.4" fill="#54ffff"/>
<rect x="1212.1" y="640.6" width="4.8" height="69.4" fill="#54ffff"/>
<rect x="1221.1" y="643.6" width="4.8" height="66.4" fill="#54ffff"/>
<rect x="1228.6" y="631.6" width="4.8" height="78.4" fill="#ff3232"/>
<rect x="1236.1" y="598.6" width="4.8" height="111.4" fill="#ff3232"/>
<rect x="1245.1" y="616.6" width="4.8" height="93.4" fill="#54ffff"/>
<rect x="1252.6" y="625.6" width="4.8" height="84.4" fill="#ff3232"/>
<rect x="1260.1" y="624" width="4.8" height="86" fill="#ff3232"/>
<rect x="1269.1" y="625.6" width="4.8" height="84.4" fill="#54ffff"/>
<rect x="1276.6" y="639" width="4.8" height="71" fill="#54ffff"/>
<rect x="1284.1" y="622.6" width="4.8" height="87.4" fill="#ff3232"/>
<rect x="1293.1" y="615" width="4.8" height="95" fill="#ff3232"/>
<rect x="1300.6" y="604.6" width="4.8" height="105.4" fill="#54ffff"/>
<rect x="1308.1" y="591" width="4.8" height="119" fill="#ff3232"/>
<rect x="1317.1" y="607.6" width="4.8" height="102.4" fill="#54ffff"/>
<rect x="1324.6" y="624" width="4.8" height="86" fill="#54ffff"/>
<rect x="1332.1" y="618" width="4.8" height="92" fill="#54ffff"/>
<rect x="1341.1" y="625.6" width="4.8" height="84.4" fill="#54ffff"/>
<rect x="1348.6" y="628.6" width="4.8" height="81.4" fill="#54ffff"/>
<rect x="1356.1" y="618" width="4.8" height="92" fill="#ff3232"/>
<rect x="1365.1" y="579" width="4.8" height="131" fill="#ff3232"/>
<rect x="1372.6" y="585" width="4.8" height="125" fill="#54ffff"/>
<rect x="1380.1" y="600.6" width="4.8" height="109.4" fill="#ff3232"/>
<rect x="1389.1" y="583.6" width="4.8" height="126.4" fill="#ff3232"/>
<rect x="1396.6" y="588" width="4.8" height="122" fill="#ff3232"/>
<rect x="1404.1" y="597" width="4.8" height="113" fill="#54ffff"/>
<rect x="1413.1" y="613.6" width="4.8" height="96.4" fill="#ff3232"/>
<rect x="1420.6" y="631.6" width="4.8" height="78.4" fill="#54ffff"/>
<rect x="1428.1" y="609" width="4.8" height="101" fill="#54ffff"/>
<rect x="1437.1" y="639" width="4.8" height="71" fill="#54ffff"/>
</g>
<polyline points="5.6,631 14.8,629.4 22.2,625.4 29.6,625 38.8,623.6 46.2,623.6 53.6,622 62.6,621.6 70.2,623 77.6,623.6 86.6,623.6 94.2,626.4 101.6,626.4 110.6,626.4 118.2,620 125.6,622 134.6,622 142.2,620.4 149.6,620.4 158.6,618.6 166.2,617.6 173.6,615.6 182.6,617.6 190.2,617.6 197.6,623.6 206.6,625 214.2,626 221.6,628 230.6,629.6 238.2,629.6 245.6,631 254.6,629.6 262.2,629.6 269.6,629.6 278.6,630.6 286.2,633 293.6,634 302.8,634.6 310.2,634.6 317.6,636 326.6,637 334.2,638.6 341.6,638.6 350.6,639 358.2,640.6 365.6,640 374.6,640 382.2,641.6 389.6,641.6 398.6,643 406.2,641.6 413.6,640 422.6,640 430.2,638.6 437.6,638.6 446.6,638.6 454.2,639 461.6,639.6 470.6,637 478.2,636 485.6,636 494.6,637.6 502.2,640.6 511.2,641.6 518.6,642 526.2,641.6 535.2,643 542.6,643 550.2,646.6 559.2,648 566.6,647 574.2,640.6 583.2,638.6 590.6,637 598.2,637 607.2,638.6 614.6,637.6 622.2,635.6 631.2,635.6 638.6,635.6 646.2,635.6 655.2,640 662.6,641 670.2,642 679.2,642 686.6,643 694.2,643 703.2,643 710.6,641.6 718.2,641.6 727.2,643 734.6,646 742.2,646 751.2,646 758.6,646 766.2,643 775.2,637.6 782.6,635.6 790.2,634 799.2,632.6 806.6,630.6 814.2,629.6 823.2,628 830.6,625 838.2,626 847.2,628.6 854.6,631.6 862.2,634 871.2,634 878.6,636 886.2,637 895.2,637 902.6,638.6 910.2,641 919.2,642.6 926.6,642.6 934.2,646 943.2,647.6 950.6,650.6 958.2,652.6 967.2,652.6 974.6,652.6 983.6,652.6 991.2,653 998.6,653 1007.6,653 1015.2,653 1022.6,653 1031.6,653 1039.2,652 1046.6,653 1055.6,654.6 1063.2,654.6 1070.6,655.6 1079.6,657 1087.2,657 1094.6,657 1103.6,654 1111.2,654 1118.6,652 1127.6,650.6 1135.2,649 1142.6,648 1151.6,646 1159.2,643 1166.6,641.6 1175.6,641.6 1183.2,637.6 1190.6,635.6 1199.6,638.6 1207.2,637 1214.6,637 1223.6,638.6 1231.2,637 1238.6,633.6 1247.6,630.6 1255.2,628 1262.6,631 1271.6,631 1279.2,629.6 1286.6,628 1295.6,626 1303.2,622 1310.6,618 1319.6,617.6 1327.2,619 1334.6,618 1343.6,617.6 1351.2,619 1358.6,615 1367.6,610.6 1375.2,608.6 1382.6,608 1391.6,608 1399.2,605 1406.6,602.6 1415.6,602.6 1423.2,604 1430.6,600.6 1439.6,604" fill="none" stroke="#ffff00" stroke-width="1.1" stroke-linejoin="round" />
<polyline points="5.6,628 14.8,626.6 22.2,625 29.6,624 38.8,622 46.2,617.6 53.6,619 62.6,620 70.2,620.4 77.6,624 86.6,629 94.2,634 101.6,632.6 110.6,632 118.2,619 125.6,614.4 134.6,608.6 142.2,608.6 149.6,607 158.6,618 166.2,621 173.6,624.6 182.6,626 190.2,629.6 197.6,628 206.6,628 214.2,628 221.6,631 230.6,630 238.2,630.6 245.6,632 254.6,630.6 262.2,630.6 269.6,631 278.6,630 286.2,632 293.6,636 302.8,638 310.2,638.6 317.6,640 326.6,642 334.2,640 341.6,638.6 350.6,640 358.2,642 365.6,640.6 374.6,640.6 382.2,643 389.6,642 398.6,645 406.2,643 413.6,640 422.6,639 430.2,635.6 437.6,633.6 446.6,634 454.2,637.6 461.6,640.6 470.6,640 478.2,638.6 485.6,637 494.6,639 502.2,642 511.2,645 518.6,646.6 526.2,646.6 535.2,646.6 542.6,646.6 550.2,646.6 559.2,648 566.6,646.6 574.2,634.6 583.2,631 590.6,628 598.2,626 607.2,628.6 614.6,639 622.2,642 631.2,645 638.6,645 646.2,642 655.2,641 662.6,642 670.2,641 679.2,640 686.6,642 694.2,645 703.2,645 710.6,642 718.2,644.4 727.2,646 734.6,646 742.2,648.4 751.2,650.6 758.6,647 766.2,639 775.2,627 782.6,622 790.2,617.6 799.2,617.6 806.6,619 814.2,629 823.2,633 830.6,633 838.2,634.6 847.2,637 854.6,634 862.2,634.6 871.2,635.6 878.6,637 886.2,637.6 895.2,641 902.6,644.4 910.2,646.6 919.2,649 926.6,651 934.2,650.6 943.2,652 950.6,654.6 958.2,654.6 967.2,653 974.6,653 983.6,653 991.2,652 998.6,650.6 1007.6,653 1015.2,654 1022.6,653 1031.6,654 1039.2,654 1046.6,653 1055.6,656 1063.2,658 1070.6,656 1079.6,657 1087.2,659 1094.6,657 1103.6,652.6 1111.2,652.6 1118.6,646.6 1127.6,643 1135.2,640 1142.6,642 1151.6,640 1159.2,642 1166.6,640.6 1175.6,642.6 1183.2,635 1190.6,632 1199.6,635.6 1207.2,634 1214.6,632 1223.6,638 1231.2,643 1238.6,634 1247.6,627 1255.2,623 1262.6,620 1271.6,619 1279.2,626 1286.6,626.6 1295.6,624 1303.2,618.6 1310.6,613 1319.6,608 1327.2,609.6 1334.6,609.6 1343.6,613 1351.2,621 1358.6,624 1367.6,614.6 1375.2,606 1382.6,601 1391.6,592 1399.2,587 1406.6,592 1415.6,598 1423.2,604 1430.6,608.6 1439.6,618" fill="none" stroke="#ffffff" stroke-width="1.1" stroke-linejoin="round" />
<polyline points="5.6,803.6 14,803.6 22.2,806.4 30,806.4 38,805 46.4,799 53.6,795 62,794 70,796.6 77.6,800.4 86.6,806 95,809.6 102,813 110,819 118,824 125.6,828 135,831 142.2,833.6 150,835.4 158,835 165.6,834.4 173.6,835 182,835 190,832 198,824 206.6,814 215.6,806 222.6,805 230,810 238,819 246,824 254.6,826 262,829.6 270,833.6 278.6,832.4 286.2,829.6 293.6,828 302.8,827.6 310.2,827 317.6,823.6 326.6,821 334.2,812 341.6,803.6 350.6,796 358.2,788 365.6,783 374.6,779 382.2,776.6 389.6,775 398.6,778.4 406.2,776.6 413.6,775 422.6,773.4 430.2,778.4 437.6,789 446.6,802 454.2,812 461.6,822 470.6,832 478.2,836 485.6,838.4 494.6,840 502.2,836 511.2,830 518.6,824 526.2,823 535.2,826 542.6,826 550.2,828 559.2,833 566.6,837 574.2,840 583.2,842.6 590.6,846 598.2,847 607.2,849 614.6,850 622.2,851.6 631.2,853.4 638.6,851.6 646.2,851 655.2,849.6 662.6,848 670.2,848.6 679.2,847 686.6,837 694.2,827 703.2,821 710.6,812 718.2,803 727.2,797 734.6,793.6 742.2,793 751.2,797.4 758.6,797.4 766.2,794 775.2,788.6 782.6,784.6 790.2,781.6 799.2,781 806.6,782.4 814.2,782.4 823.2,786.6 830.6,796 838.2,808 847.2,818 854.6,823.6 862.2,826.4 871.2,827 878.6,825.6 886.2,823.6 895.2,820.6 902.6,821 910.2,822 919.2,827.6 926.6,830.4 934.2,830.4 943.2,828.6 950.6,826 958.2,822.4 967.2,813 974.6,804.6 983.6,798 991.2,795.4 998.6,799 1007.6,803 1015.2,806.4 1022.6,813 1031.6,820.6 1039.2,828 1046.6,834 1055.6,839.6 1063.2,844 1070.6,844.6 1079.6,843 1087.2,844 1094.6,839.6 1103.6,829.6 1111.2,819 1118.6,809 1127.6,800 1135.2,792 1142.6,788 1151.6,784 1159.2,785.6 1166.6,793 1175.6,802 1183.2,812.6 1190.6,820.6 1199.6,828 1207.2,835 1214.6,839 1223.6,844 1231.2,845.6 1238.6,839 1247.6,832 1255.2,825 1262.6,818 1271.6,812 1279.2,810.6 1286.6,810 1295.6,807.6 1303.2,807 1310.6,800.6 1319.6,794 1327.2,790 1334.6,786.6 1343.6,785 1351.2,788 1358.6,791 1367.6,791.6 1375.2,795 1382.6,793 1391.6,790 1399.2,785.4 1406.6,787 1415.6,789 1423.2,794 1430.6,804 1439.6,813" fill="none" stroke="#ffff00" stroke-width="1.1" stroke-linejoin="round" />
<polyline points="5.6,804.6 14,805 22.2,811.6 30,809 38,801 46.4,789 53.6,787 62,793 70,800 77.6,811 86.6,816 95,817 102,820 110,827 118,834 125.6,838.4 135,834.4 142.2,841 150,838 158,834.4 165.6,833.6 173.6,835.6 182,831 190,828 198,805 206.6,794.4 215.6,795 222.6,802 230,817 238,835 246,835 254.6,830.4 262,836 270,841 278.6,829.6 286.2,824 293.6,827 302.8,825.6 310.2,824 317.6,817.6 326.6,815 334.2,796 341.6,787 350.6,781 358.2,774.6 365.6,773 374.6,771.6 382.2,767.4 389.6,773 398.6,783.6 406.2,774.6 413.6,772 422.6,770.6 430.2,787 437.6,808 446.6,826 454.2,831 461.6,840 470.6,850.4 478.2,844.6 485.6,844 494.6,842 502.2,830 511.2,818 518.6,812 526.2,821 535.2,831 542.6,826 550.2,834 559.2,840 566.6,845 574.2,846.6 583.2,847 590.6,853 598.2,849.6 607.2,852.4 614.6,851.6 622.2,855 631.2,858 638.6,849.6 646.2,850 655.2,846 662.6,845.6 670.2,849 679.2,845 686.6,826 694.2,806.4 703.2,808 710.6,793.6 718.2,785.6 727.2,783.6 734.6,787 742.2,790 751.2,808 758.6,799 766.2,787 775.2,779.6 782.6,775 790.2,776.6 799.2,779 806.6,784 814.2,784.6 823.2,796 830.6,812 838.2,828 847.2,838 854.6,834 862.2,835.4 871.2,829 878.6,823 886.2,821 895.2,811 902.6,821 910.2,827 919.2,840 926.6,838 934.2,829 943.2,826 950.6,822 958.2,817.6 967.2,799 974.6,788.6 983.6,783.6 991.2,790 998.6,806 1007.6,816 1015.2,811 1022.6,823 1031.6,835 1039.2,839 1046.6,848 1055.6,851 1063.2,853 1070.6,844 1079.6,840 1087.2,846 1094.6,830 1103.6,812 1111.2,799 1118.6,787 1127.6,781 1135.2,777.6 1142.6,779 1151.6,773.6 1159.2,790 1166.6,808 1175.6,822 1183.2,833 1190.6,836 1199.6,844 1207.2,848 1214.6,850 1223.6,854.6 1231.2,846 1238.6,830 1247.6,818 1255.2,809 1262.6,804 1271.6,801.6 1279.2,807 1286.6,809 1295.6,803 1303.2,804.6 1310.6,790 1319.6,782.6 1327.2,779 1334.6,780.4 1343.6,782 1351.2,793 1358.6,797.6 1367.6,793 1375.2,801 1382.6,789 1391.6,785 1399.2,776.4 1406.6,787 1415.6,795 1423.2,801.6 1430.6,822 1439.6,834" fill="none" stroke="#ffffff" stroke-width="1.1" stroke-linejoin="round" />
<polyline points="5.6,804.6 14,805.4 22.2,820 30,815 38,796 46.4,769 53.6,771 62,789 70,803 77.6,828 86.6,838 95,830.4 102,834 110,844 118,853 125.6,858 135,845.6 142.2,855 150,846 158,836 165.6,832 173.6,839.6 182,829.6 190,817.6 198,771 206.6,755.4 215.6,772 222.6,802 230,836 238,866.6 246,857 254.6,840 262,850 270,856 278.6,828 286.2,816 293.6,825.6 302.8,820 310.2,817 317.6,803 326.6,805.6 334.2,768 341.6,752.4 350.6,749 358.2,744.6 365.6,753 374.6,756 382.2,752.4 389.6,769 398.6,791.6 406.2,771 413.6,767.4 422.6,764.6 430.2,804 437.6,846 446.6,872 454.2,874 461.6,879 470.6,885.6 478.2,862 485.6,855 494.6,841 502.2,814 511.2,797 518.6,788.6 526.2,817 535.2,839.6 542.6,824.6 550.2,844 559.2,855 566.6,861.6 574.2,861 583.2,857 590.6,867 598.2,855 607.2,859 614.6,854.6 622.2,861 631.2,867 638.6,844 646.2,850 655.2,838 662.6,839.6 670.2,853 679.2,837 686.6,796 694.2,764.6 703.2,779.6 710.6,755.6 718.2,749.4 727.2,757 734.6,772 742.2,788 751.2,829 758.6,796 766.2,772 775.2,759.6 782.6,755.4 790.2,767.4 799.2,778 806.6,787 814.2,787 823.2,812 830.6,841 838.2,867 847.2,881.4 854.6,857 862.2,853 871.2,832 878.6,818 886.2,815 895.2,793.6 902.6,819 910.2,835 919.2,862 926.6,849 934.2,825 943.2,822 950.6,812 958.2,803 967.2,764 974.6,754.4 983.6,755.4 991.2,776 998.6,817 1007.6,836.6 1015.2,821 1022.6,849 1031.6,868 1039.2,866.6 1046.6,877 1055.6,873 1063.2,871 1070.6,846 1079.6,837 1087.2,853 1094.6,810 1103.6,773 1111.2,758 1118.6,742 1127.6,745 1135.2,749 1142.6,760.4 1151.6,754.4 1159.2,797 1166.6,836 1175.6,855 1183.2,874 1190.6,866.6 1199.6,871 1207.2,877 1214.6,869.6 1223.6,875 1231.2,846 1238.6,806 1247.6,788 1255.2,779 1262.6,776.4 1271.6,780 1279.2,802 1286.6,807 1295.6,796 1303.2,800 1310.6,767 1319.6,756.6 1327.2,756.6 1334.6,767 1343.6,778 1351.2,804 1358.6,808 1367.6,796 1375.2,813 1382.6,785 1391.6,775 1399.2,759 1406.6,791 1415.6,804 1423.2,819 1430.6,858 1439.6,876" fill="none" stroke="#ff00ff" stroke-width="1.15" stroke-linejoin="round" />
<g stroke="#b80000" fill="none">
<line x1="2" y1="536.6" x2="1505" y2="536.6" stroke-width="1.9"/>
<line x1="2" y1="712" x2="1468" y2="712" stroke-width="2.3"/>
<line x1="1467" y1="712.7" x2="1505" y2="712.7" stroke-width="3.7"/>
<line x1="1468.2" y1="9" x2="1468.2" y2="713" stroke-width="1.9"/>
<line x1="1468.95" y1="711" x2="1468.95" y2="890" stroke-width="3.7"/>
</g>
<g stroke="#b80000" stroke-width="1.6" fill="none">
<line x1="1469" y1="689.5" x2="1505" y2="689.5" stroke-width="1.9"/>
<line x1="1469" y1="57.7" x2="1477" y2="57.7"/>
<line x1="1469" y1="84.1" x2="1473" y2="84.1"/>
<line x1="1469" y1="110.4" x2="1477" y2="110.4"/>
<line x1="1469" y1="137.4" x2="1473" y2="137.4"/>
<line x1="1469" y1="164.4" x2="1477" y2="164.4"/>
<line x1="1469" y1="190.7" x2="1473" y2="190.7"/>
<line x1="1469" y1="217" x2="1477" y2="217"/>
<line x1="1469" y1="243.2" x2="1473" y2="243.2"/>
<line x1="1469" y1="269.4" x2="1477" y2="269.4"/>
<line x1="1469" y1="296.4" x2="1473" y2="296.4"/>
<line x1="1469" y1="323.5" x2="1477" y2="323.5"/>
<line x1="1469" y1="349.8" x2="1473" y2="349.8"/>
<line x1="1469" y1="376" x2="1477" y2="376"/>
<line x1="1469" y1="402.2" x2="1473" y2="402.2"/>
<line x1="1469" y1="428.4" x2="1477" y2="428.4"/>
<line x1="1469" y1="455.4" x2="1473" y2="455.4"/>
<line x1="1469" y1="482.4" x2="1477" y2="482.4"/>
<line x1="1469" y1="605.4" x2="1476.5" y2="605.4"/>
<line x1="1469" y1="658" x2="1476.5" y2="658"/>
<line x1="1469" y1="632" x2="1473" y2="632"/>
</g>
<g fill="#ff4040" stroke="#ff4040">
<text x="1489" y="612.2">2</text><text x="1489" y="664.6">1</text>
<text x="1471.6" y="706.4" textLength="19" lengthAdjust="spacingAndGlyphs">X1</text>
<text x="1485" y="766.8">100</text><text x="1495" y="788">80</text><text x="1495" y="819">50</text><text x="1495" y="852">20</text>
</g>
<path d="M1492.6 694.2H1508M1498.4 694.2L1497.4 700Q1496.4 704 1492.8 707.4M1498 698.8H1506" fill="none" stroke="#ff4040" stroke-width="1.4"/>
<text x="212" y="28.6" fill="#ffffff" stroke="#ffffff" textLength="108" lengthAdjust="spacingAndGlyphs">MA5: 2619.62</text>
<text x="330.4" y="28.6" fill="#ffff20" stroke="#ffff20" textLength="118.6" lengthAdjust="spacingAndGlyphs">MA10: 2643.60</text>
<text x="459.4" y="28.6" fill="#ff00ff" stroke="#ff00ff" textLength="118.6" lengthAdjust="spacingAndGlyphs">MA20: 2636.03</text>
<text x="588.4" y="28.6" fill="#00e600" stroke="#00e600" textLength="129.6" lengthAdjust="spacingAndGlyphs">MA250: 3024.72</text>
<text x="3" y="555.4" fill="#d8d8d8" stroke="#d8d8d8" textLength="76" lengthAdjust="spacingAndGlyphs">VOLUME:</text>
<text x="86" y="555.4" fill="#d8d8d8" stroke="#d8d8d8" textLength="117" lengthAdjust="spacingAndGlyphs">134314544.00</text>
<text x="213.6" y="555.4" fill="#ffffff" stroke="#ffffff" textLength="36.4" lengthAdjust="spacingAndGlyphs">MA5:</text>
<text x="257.6" y="555.4" fill="#ffffff" stroke="#ffffff" textLength="116.4" lengthAdjust="spacingAndGlyphs">174717184.00</text>
<text x="384.4" y="555.4" fill="#ffff20" stroke="#ffff20" textLength="47.6" lengthAdjust="spacingAndGlyphs">MA10:</text>
<text x="439" y="555.4" fill="#ffff20" stroke="#ffff20" textLength="117" lengthAdjust="spacingAndGlyphs">204302816.00</text>
<text x="3.6" y="730.4" fill="#d0d0d0" stroke="#d0d0d0" textLength="83.8" lengthAdjust="spacingAndGlyphs">KDJ(9,3,3)</text>
<text x="97.6" y="730.4" fill="#e8e8e8" stroke="#e8e8e8" textLength="64.8" lengthAdjust="spacingAndGlyphs">K: 29.14</text>
<text x="172.4" y="730.4" fill="#ffff20" stroke="#ffff20" textLength="66" lengthAdjust="spacingAndGlyphs">D: 48.97</text>
<text x="248" y="730.4" fill="#ff00ff" stroke="#ff00ff" textLength="69.6" lengthAdjust="spacingAndGlyphs">J: -10.53</text>
<g fill="none" stroke="#c6c6c6" stroke-width="1.25" stroke-linecap="square"><title>上证指数(日线.前复权)</title>
<path transform="translate(4,13.6) scale(1.04,1.1)" d="M7.5 1V15M7.5 7.2H13.5M0.5 15H15.5"/>
<path transform="translate(21.8,13.6) scale(1.04,1.1)" d="M1.8 1.5L3.6 3.4M0.3 6H3.6V14L5.6 12.3M6.5 2.2H15.5M11 2.2V15M11 8H15M8 7V15M5.6 15H16"/>
<path transform="translate(39.4,13.6) scale(1.04,1.1)" d="M0.4 5H6.2M3.5 1V14.5Q3.5 15.6 2 14.6M0.4 11L6.2 8.6M14.3 2L9 4.6M8.6 1V6.6H15.2V5.2M8.6 9H14.6V15.6H8.6ZM8.6 12.2H14.6"/>
<path transform="translate(57,13.6) scale(1.04,1.1)" d="M0.4 4.6H8M4.2 1V8.6M1.4 1.4L2.4 3M7 1.4L6 3M4.2 4.8L0.6 8M4.2 4.8L7.8 8M3.2 9L1.6 12.6L6.6 15.6M6.4 9.4L4.6 13.2L0.4 15.6M0.4 11H8M11.2 1L9 6.2M10.4 4H15.6M14 4.2Q13.4 10.5 8.6 15.6M10 7Q12 12.5 15.8 15.6"/>
<path transform="translate(76,13.6) scale(1.04,1.1)" d="M4.6 0.5Q0.8 8.5 4.6 17"/>
<path transform="translate(82.5,13.6) scale(1.04,1.1)" d="M2.2 1.5H12.8V15.2H2.2ZM2.2 8.2H12.8"/>
<path transform="translate(99,13.6) scale(1.04,1.1)" d="M4 1L1.4 5.2H4.8L1 10H5.6M0.4 14.6L5.6 12.6M7 4.8L14.6 3.8M6.6 8.8L15.6 7.4M10 1Q10.6 9.5 15.6 15.4V13M13.6 10.4L8 15.6M13 1.4L14.6 3"/>
<path transform="translate(117.6,13.6) scale(1.04,1.1)" d="M0.6 12.3V13.7"/>
<path transform="translate(122,13.6) scale(1.04,1.1)" d="M4 1L5.4 3M12 1L10.6 3M0.4 4.6H15.6M2 7V15.6M2 7H7.2V15.6L5.8 15M2 9.8H7.2M2 12.6H7.2M10.6 7.5V13M14.6 6.5V15.6L13 15"/>
<path transform="translate(139.8,13.6) scale(1.04,1.1)" d="M4.6 0.8L2 4M4 2.4H15M4 4.6H12.6V9.2H4ZM4 6.9H12.6M6.2 9.4L3.4 12.6M5.4 10.8H12L8.4 14Q5 15.6 1 15.8M5.6 11.6Q9.5 14.8 15.6 15.8"/>
<path transform="translate(157.6,13.6) scale(1.04,1.1)" d="M0.4 4.6H7M3.8 1V15.6M3.8 5L0.4 10.6M3.8 6L6.6 9M8 3H15L12.2 10Q10.5 13.5 7.4 15.6M9.2 4.6Q11.5 11.5 16 15.6"/>
<path transform="translate(175.8,13.6) scale(1.04,1.1)" d="M0.6 0.5Q4.4 8.5 0.6 17"/>
</g>
<rect x="-4" y="0" width="1508" height="9.5" fill="url(#tg)"/><rect x="-4" y="-4" width="1508" height="4.5" fill="#d6d6d6"/>
<rect x="581" y="0" width="57.5" height="6.6" fill="#dcdcdc"/><rect x="581" y="-4" width="57.5" height="5" fill="#dcdcdc"/><rect x="648" y="-4" width="58" height="5" fill="#dcdcdc"/><rect x="648" y="0" width="58" height="6.6" fill="#dcdcdc"/><path d="M581.4 -4V6.4M638 -4V6.4M648.4 -4V6.4M705.6 -4V6.4" stroke="#f4f4f4" stroke-width="1"/>
<rect x="-4" y="8" width="6.2" height="882" fill="#d0d0d0"/>
<path d="M2 447L15 462V508L2 528Z" fill="#343434" fill-opacity="0.85" stroke="#626262" stroke-width="1.5"/>
<path d="M3.6 479.2L11 486.4L3.6 493.6Z" fill="#f0a000"/>
</g></svg></body></html>
